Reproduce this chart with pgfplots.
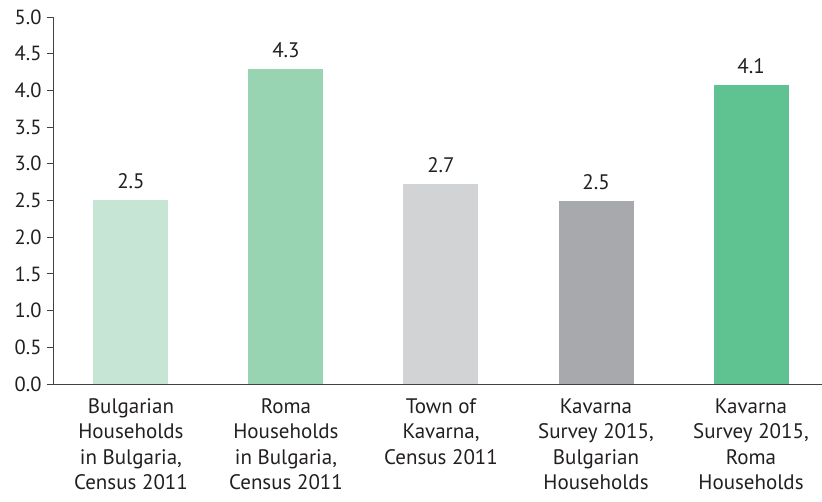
\documentclass[border=0pt]{standalone}
\usepackage{fontspec}
\setmainfont{PT Sans}
\usepackage{pgfplots}
\pgfplotsset{compat=1.18}
\definecolor{c1}{HTML}{C6E5D4}
\definecolor{c2}{HTML}{98D4B1}
\definecolor{c3}{HTML}{D1D3D4}
\definecolor{c4}{HTML}{A7A9AC}
\definecolor{c5}{HTML}{5EC391}
\definecolor{txt}{HTML}{231F20}
\begin{document}
\begin{tikzpicture}
\begin{axis}[name=ax,
  scale only axis, width=769pt, height=367pt,
  xmin=-0.503, xmax=4.458, ymin=0, ymax=5,
  axis x line=bottom, axis y line=left,
  axis line style={-, draw=txt!85, line width=0.9pt},
  ytick={0,0.5,...,5}, yticklabel style={/pgf/number format/fixed, /pgf/number format/fixed zerofill, /pgf/number format/precision=1},
  /pgf/number format/assume math mode=true,
  tick align=outside, major tick length=6pt,
  tick style={draw=txt!85, line width=0.9pt},
  xtick={0,1,2,3,4}, xtick style={draw=none},
  xticklabels={{Bulgarian\\Households\\in Bulgaria,\\Census 2011},{Roma\\Households\\in Bulgaria,\\Census 2011},{Town of\\Kavarna,\\Census 2011},{Kavarna\\Survey 2015,\\Bulgarian\\Households},{Kavarna\\Survey 2015,\\Roma\\Households}},
  xticklabel style={align=center, font=\fontsize{21}{25.5}\selectfont, text=txt, yshift=-5pt},
  yticklabel style={font=\fontsize{20.5}{23}\selectfont, text=txt, xshift=-2pt},
  ybar=0pt, bar width=75pt, bar shift=0pt,
  nodes near coords, nodes near coords style={font=\fontsize{21}{23}\selectfont, text=txt, /pgf/number format/fixed, /pgf/number format/fixed zerofill, /pgf/number format/precision=1, yshift=8pt},
  clip=false,
]
\addplot[fill=c1, draw=none] coordinates {(0,2.507)};
\addplot[fill=c2, draw=none] coordinates {(1,4.29)};
\addplot[fill=c3, draw=none] coordinates {(2,2.72)};
\addplot[fill=c4, draw=none] coordinates {(3,2.49)};
\addplot[fill=c5, draw=none] coordinates {(4,4.07)};
\end{axis}
\pgfresetboundingbox
\path[use as bounding box] (ax.south west) ++(-53pt,-118pt) rectangle ++(822pt,502pt);
\end{tikzpicture}
\end{document}
